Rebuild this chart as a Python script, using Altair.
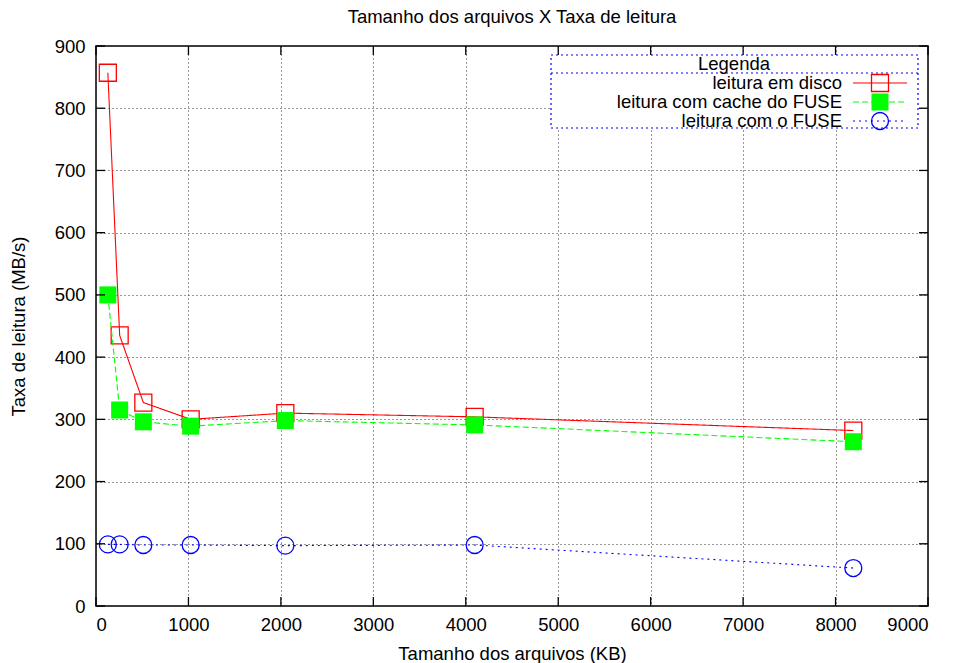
import altair as alt
import pandas as pd

# ---- data ----
sizes_kb = [128, 256, 512, 1024, 2048, 4096, 8192]
disk = [857, 435, 327, 300, 310, 304, 282]
fuse_cache = [500, 315, 296, 289, 298, 291, 264]
fuse = [99, 99, 98, 98, 97, 98, 61]

series_names = ["leitura em disco", "leitura com cache do FUSE", "leitura com o FUSE"]
series_colors = ["#ff0000", "#00ff00", "#0000ff"]
series_dash = [[1, 0], [6, 3], [2, 4]]
series_shape = ["square", "square", "circle"]
series_filled = [False, True, False]

x_ticks = list(range(0, 9001, 1000))
y_ticks = list(range(0, 901, 100))

FONT = "Liberation Sans"
FS = 18.5
W, H = 832, 560

rows = []
for name, vals in zip(series_names, [disk, fuse_cache, fuse]):
    for s, v in zip(sizes_kb, vals):
        rows.append({"serie": name, "kb": s, "mbs": v})
df = pd.DataFrame(rows)

xscale = alt.Scale(domain=[0, 9000], nice=False, zero=False)
yscale = alt.Scale(domain=[0, 900], nice=False, zero=False)

xaxis = alt.Axis(values=x_ticks, format="d", title="Tamanho dos arquivos (KB)", ticks=False,
                 tickSize=0, labelPadding=9, titleY=47, titleBaseline="middle",
                 titleAlign="center", titleX=W / 2)
yaxis = alt.Axis(values=y_ticks, format="d", title="Taxa de leitura (MB/s)", ticks=False,
                 tickSize=0, labelPadding=11, titleX=-78, titleY=H / 2,
                 titleBaseline="middle", titleAlign="center", titleAngle=-90)

layers = []
for name, col, dash, shape, filled in zip(series_names, series_colors, series_dash,
                                          series_shape, series_filled):
    sub = df[df["serie"] == name]
    base = alt.Chart(sub)
    line = base.mark_line(color=col, strokeDash=dash, strokeWidth=1.1).encode(
        x=alt.X("kb:Q", scale=xscale, axis=xaxis),
        y=alt.Y("mbs:Q", scale=yscale, axis=yaxis),
    )
    pts = base.mark_point(shape=shape, filled=filled, color=col, size=289,
                          strokeWidth=1.3, opacity=1).encode(
        x=alt.X("kb:Q", scale=xscale),
        y=alt.Y("mbs:Q", scale=yscale),
    )
    layers += [line, pts]

# inward ticks (gnuplot style, mirrored)
xt = pd.DataFrame({"v": x_ticks})
yt = pd.DataFrame({"v": y_ticks})
TL = 9
layers.append(alt.Chart(xt).mark_rule(color="black", strokeWidth=1.3).encode(
    x=alt.X("v:Q", scale=xscale), y=alt.value(H), y2=alt.value(H - TL)))
layers.append(alt.Chart(xt).mark_rule(color="black", strokeWidth=1.3).encode(
    x=alt.X("v:Q", scale=xscale), y=alt.value(0), y2=alt.value(TL)))
layers.append(alt.Chart(yt).mark_rule(color="black", strokeWidth=1.3).encode(
    y=alt.Y("v:Q", scale=yscale), x=alt.value(0), x2=alt.value(TL)))
layers.append(alt.Chart(yt).mark_rule(color="black", strokeWidth=1.3).encode(
    y=alt.Y("v:Q", scale=yscale), x=alt.value(W - TL), x2=alt.value(W)))

# ---- legend box (gnuplot style) ----
one = pd.DataFrame({"k": [0]})
LX0, LX1, LY0, LY1 = 455, 822, 9, 82
layers.append(alt.Chart(one).mark_rect(fill="white", stroke="#0000ff", strokeDash=[2, 3],
                                       strokeWidth=1.2).encode(
    x=alt.value(LX0), x2=alt.value(LX1), y=alt.value(LY0), y2=alt.value(LY1)))
layers.append(alt.Chart(one).mark_rule(color="#0000ff", strokeDash=[2, 3], strokeWidth=1.2).encode(
    x=alt.value(LX0), x2=alt.value(LX1), y=alt.value(27)))
layers.append(alt.Chart(one).mark_text(text="Legenda", font=FONT, fontSize=FS, align="center",
                                       baseline="middle").encode(
    x=alt.value(638), y=alt.value(18)))
entry_y = [37, 56, 75]
for name, col, dash, shape, filled, ey in zip(series_names, series_colors, series_dash,
                                              series_shape, series_filled, entry_y):
    layers.append(alt.Chart(one).mark_text(text=name, font=FONT, fontSize=FS, align="right",
                                           baseline="middle").encode(
        x=alt.value(746), y=alt.value(ey)))
    layers.append(alt.Chart(one).mark_rule(color=col, strokeDash=dash, strokeWidth=1.1).encode(
        x=alt.value(757), x2=alt.value(811), y=alt.value(ey)))
    layers.append(alt.Chart(one).mark_point(shape=shape, filled=filled, color=col, size=289,
                                            strokeWidth=1.3, opacity=1).encode(
        x=alt.value(784), y=alt.value(ey)))

chart = alt.layer(*layers).properties(
    width=W, height=H,
    title=alt.TitleParams("Tamanho dos arquivos X Taxa de leitura", font=FONT, fontSize=FS,
                          fontWeight="normal", anchor="middle", baseline="middle", offset=2,
                          color="black"),
    autosize=alt.AutoSizeParams(type="none"),
    padding={"left": 96, "top": 46, "right": 956 - 96 - W, "bottom": 663 - 46 - H},
).configure_view(stroke="black", strokeWidth=1.5).configure_axis(
    grid=True, gridColor="#333333", gridDash=[1, 3], gridWidth=1, gridOpacity=1,
    domain=False, labelFont=FONT, labelFontSize=FS, labelColor="black",
    titleFont=FONT, titleFontSize=FS, titleFontWeight="normal", titleColor="black",
)

chart.save("out.html", embed_options={"renderer": "svg", "actions": False})
